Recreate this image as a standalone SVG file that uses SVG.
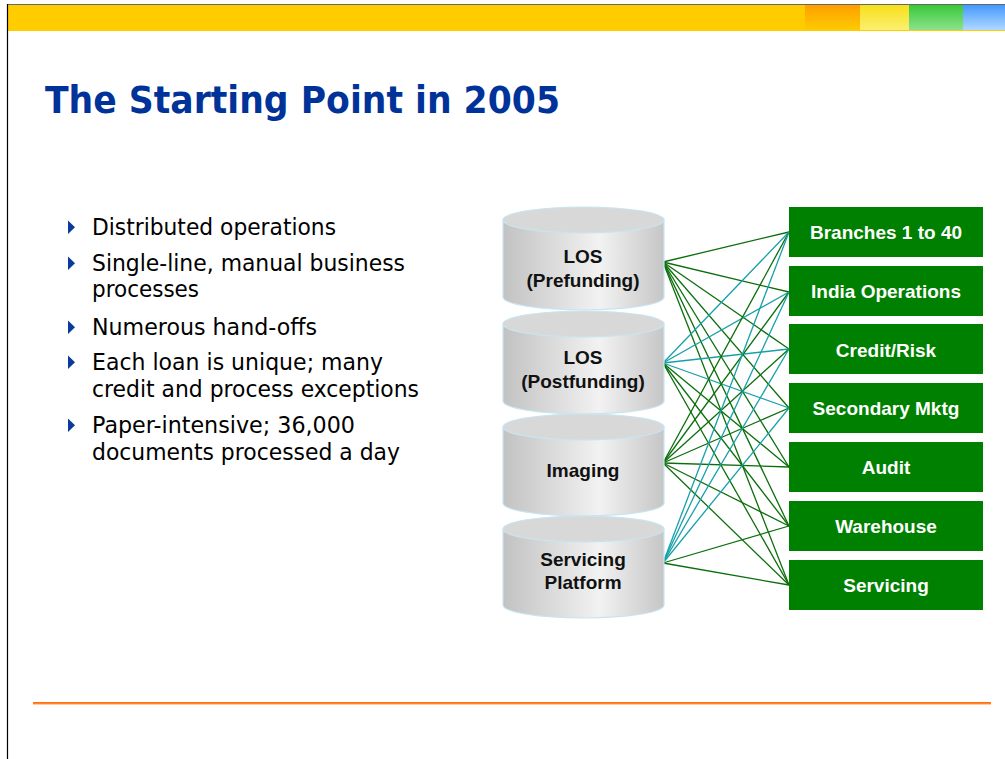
<svg xmlns="http://www.w3.org/2000/svg" width="1005" height="759" viewBox="0 0 1005 759">
<defs>
<linearGradient id="cylBody" x1="0" y1="0" x2="1" y2="0">
<stop offset="0" stop-color="#c2c2c2"/>
<stop offset="0.6" stop-color="#f2f2f2"/>
<stop offset="1" stop-color="#c6c6c6"/>
</linearGradient>
<linearGradient id="gOrange" x1="0" y1="0" x2="0" y2="1"><stop offset="0" stop-color="#ff9f00"/><stop offset="1" stop-color="#ffcc00"/></linearGradient>
<linearGradient id="gYellow" x1="0" y1="0" x2="0" y2="1"><stop offset="0" stop-color="#f8df1a"/><stop offset="1" stop-color="#faf070"/></linearGradient>
<linearGradient id="gGreen" x1="0" y1="0" x2="0" y2="1"><stop offset="0" stop-color="#38c838"/><stop offset="1" stop-color="#8ce28c"/></linearGradient>
<linearGradient id="gBlue" x1="0" y1="0" x2="0" y2="1"><stop offset="0" stop-color="#4499ff"/><stop offset="1" stop-color="#b0d8ff"/></linearGradient>
<linearGradient id="gRule" x1="0" y1="0" x2="0" y2="1"><stop offset="0" stop-color="#ff6600"/><stop offset="1" stop-color="#ff9a40"/></linearGradient>
</defs>
<style>
.title{font-family:"DejaVu Sans",Verdana,sans-serif;font-weight:bold;font-size:37px;fill:#003399}
.bul{font-family:"DejaVu Sans",Verdana,sans-serif;font-size:23px;fill:#000}
.tri{fill:#0b3a9b}
.cyl{fill:url(#cylBody);stroke:#c8e4f2;stroke-width:1.2}
.cyltop{fill:#d8d8d8;stroke:#c8e4f2;stroke-width:1.2}
.cyltxt{font-family:"Liberation Sans",Arial,sans-serif;font-weight:bold;font-size:19px;fill:#111;text-anchor:middle}
.box{fill:#008000}
.boxtxt{font-family:"Liberation Sans",Arial,sans-serif;font-weight:bold;font-size:19px;fill:#fff;text-anchor:middle}
.g{stroke:#0b6e0b;stroke-width:1.3;fill:none}
.t{stroke:#17a0a8;stroke-width:1.3;fill:none}
</style>
<rect x="0" y="0" width="1005" height="759" fill="#fff"/>
<g id="header">
<rect x="7" y="5" width="998" height="26" fill="#ffcc00"/>
<rect x="805" y="5" width="55" height="26" fill="url(#gOrange)"/>
<rect x="860" y="5" width="49" height="25" fill="url(#gYellow)"/>
<rect x="909" y="5" width="54" height="25" fill="url(#gGreen)"/>
<rect x="963" y="5" width="42" height="25" fill="url(#gBlue)"/>
<line x1="7" y1="4.5" x2="1005" y2="4.5" stroke="#666" stroke-width="1.2"/>
<line x1="7.5" y1="4" x2="7.5" y2="759" stroke="#000" stroke-width="1.2"/>
</g>
<text class="title" x="45" y="113" textLength="515" lengthAdjust="spacingAndGlyphs">The Starting Point in 2005</text>
<g id="bullets">
<polygon class="tri" points="68,220.5 68,234 75,227.2"/>
<text class="bul" x="92" y="235" textLength="244" lengthAdjust="spacingAndGlyphs">Distributed operations</text>
<polygon class="tri" points="68,256.5 68,270 75,263.2"/>
<text class="bul" x="92" y="271" textLength="313" lengthAdjust="spacingAndGlyphs">Single-line, manual business</text>
<text class="bul" x="92" y="297" textLength="107" lengthAdjust="spacingAndGlyphs">processes</text>
<polygon class="tri" points="68,320.5 68,334 75,327.2"/>
<text class="bul" x="92" y="335" textLength="225" lengthAdjust="spacingAndGlyphs">Numerous hand-offs</text>
<polygon class="tri" points="68,355.5 68,369 75,362.2"/>
<text class="bul" x="92" y="370" textLength="291" lengthAdjust="spacingAndGlyphs">Each loan is unique; many</text>
<text class="bul" x="92" y="397" textLength="327" lengthAdjust="spacingAndGlyphs">credit and process exceptions</text>
<polygon class="tri" points="68,418.5 68,432 75,425.2"/>
<text class="bul" x="92" y="433" textLength="263" lengthAdjust="spacingAndGlyphs">Paper-intensive; 36,000</text>
<text class="bul" x="92" y="460" textLength="308" lengthAdjust="spacingAndGlyphs">documents processed a day</text>
</g>
<g id="connectors">
<line class="g" x1="663" y1="262" x2="789" y2="232"/>
<line class="g" x1="663" y1="262" x2="789" y2="292"/>
<line class="g" x1="663" y1="262" x2="789" y2="349"/>
<line class="g" x1="663" y1="262" x2="789" y2="408"/>
<line class="g" x1="663" y1="262" x2="789" y2="467"/>
<line class="g" x1="663" y1="262" x2="789" y2="526"/>
<line class="g" x1="663" y1="262" x2="789" y2="585"/>
<line class="t" x1="663" y1="363" x2="789" y2="232"/>
<line class="t" x1="663" y1="363" x2="789" y2="292"/>
<line class="t" x1="663" y1="363" x2="789" y2="349"/>
<line class="t" x1="663" y1="363" x2="789" y2="408"/>
<line class="g" x1="663" y1="363" x2="789" y2="467"/>
<line class="g" x1="663" y1="363" x2="789" y2="526"/>
<line class="g" x1="663" y1="363" x2="789" y2="585"/>
<line class="g" x1="663" y1="463" x2="789" y2="232"/>
<line class="g" x1="663" y1="463" x2="789" y2="292"/>
<line class="g" x1="663" y1="463" x2="789" y2="349"/>
<line class="g" x1="663" y1="463" x2="789" y2="408"/>
<line class="g" x1="663" y1="463" x2="789" y2="467"/>
<line class="g" x1="663" y1="463" x2="789" y2="526"/>
<line class="g" x1="663" y1="463" x2="789" y2="585"/>
<line class="t" x1="663" y1="563" x2="789" y2="232"/>
<line class="t" x1="663" y1="563" x2="789" y2="292"/>
<line class="t" x1="663" y1="563" x2="789" y2="349"/>
<line class="t" x1="663" y1="563" x2="789" y2="408"/>
<line class="g" x1="663" y1="563" x2="789" y2="526"/>
<line class="g" x1="663" y1="563" x2="789" y2="585"/>
</g>
<g id="cyl-los-prefunding">
<path class="cyl" d="M503,220 L503,297 A80.5,13 0 0 0 664,297 L664,220 Z"/>
<ellipse class="cyltop" cx="583.5" cy="220" rx="80.5" ry="13"/>
<text class="cyltxt" x="583" y="263">LOS</text>
<text class="cyltxt" x="583" y="287">(Prefunding)</text>
</g>
<g id="cyl-los-postfunding">
<path class="cyl" d="M503,324 L503,401 A80.5,13 0 0 0 664,401 L664,324 Z"/>
<ellipse class="cyltop" cx="583.5" cy="324" rx="80.5" ry="13"/>
<text class="cyltxt" x="583" y="364">LOS</text>
<text class="cyltxt" x="583" y="388">(Postfunding)</text>
</g>
<g id="cyl-imaging">
<path class="cyl" d="M503,427 L503,503 A80.5,13 0 0 0 664,503 L664,427 Z"/>
<ellipse class="cyltop" cx="583.5" cy="427" rx="80.5" ry="13"/>
<text class="cyltxt" x="583" y="477">Imaging</text>
</g>
<g id="cyl-servicing-platform">
<path class="cyl" d="M503,529 L503,605 A80.5,13 0 0 0 664,605 L664,529 Z"/>
<ellipse class="cyltop" cx="583.5" cy="529" rx="80.5" ry="13"/>
<text class="cyltxt" x="583" y="566">Servicing</text>
<text class="cyltxt" x="583" y="589">Platform</text>
</g>
<g id="box-branches"><rect class="box" x="789" y="207" width="194" height="50"/><text class="boxtxt" x="886" y="239">Branches 1 to 40</text></g>
<g id="box-india"><rect class="box" x="789" y="266" width="194" height="50"/><text class="boxtxt" x="886" y="298">India Operations</text></g>
<g id="box-credit"><rect class="box" x="789" y="324" width="194" height="50"/><text class="boxtxt" x="886" y="357">Credit/Risk</text></g>
<g id="box-secondary"><rect class="box" x="789" y="383" width="194" height="50"/><text class="boxtxt" x="886" y="415">Secondary Mktg</text></g>
<g id="box-audit"><rect class="box" x="789" y="442" width="194" height="50"/><text class="boxtxt" x="886" y="474">Audit</text></g>
<g id="box-warehouse"><rect class="box" x="789" y="501" width="194" height="50"/><text class="boxtxt" x="886" y="533">Warehouse</text></g>
<g id="box-servicing"><rect class="box" x="789" y="560" width="194" height="50"/><text class="boxtxt" x="886" y="592">Servicing</text></g>
<rect x="33" y="702" width="958" height="2.5" fill="url(#gRule)"/>
</svg>
